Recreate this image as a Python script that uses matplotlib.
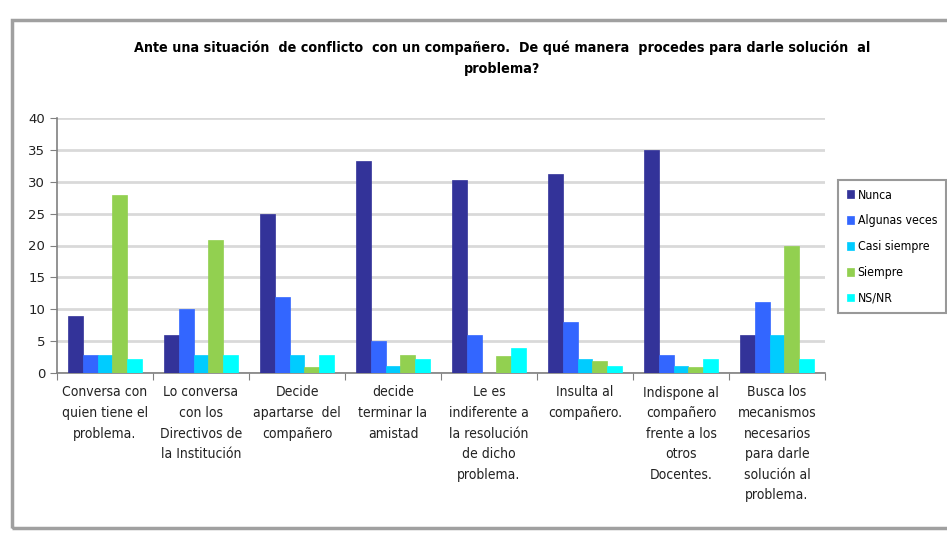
import matplotlib
matplotlib.use("Agg")
import matplotlib.pyplot as plt
from matplotlib.patches import Rectangle
import numpy as np

categories = [
    "Conversa con\nquien tiene el\nproblema.",
    "Lo conversa\ncon los\nDirectivos de\nla Institución",
    "Decide\napartarse  del\ncompañero",
    "decide\nterminar la\namistad",
    "Le es\nindiferente a\nla resolución\nde dicho\nproblema.",
    "Insulta al\ncompañero.",
    "Indispone al\ncompañero\nfrente a los\notros\nDocentes.",
    "Busca los\nmecanismos\nnecesarios\npara darle\nsolución al\nproblema.",
]
series_names = ["Nunca", "Algunas veces", "Casi siempre", "Siempre", "NS/NR"]
nunca = [9, 6, 25, 33.2, 30.2, 31.2, 35, 6]
algunas = [2.9, 10, 12, 5, 5.9, 8, 2.9, 11.1]
casi = [2.9, 2.9, 2.9, 1.05, 0, 2.2, 1.1, 5.9]
siempre = [27.9, 20.8, 0.95, 2.8, 2.7, 1.9, 0.95, 19.9]
nsnr = [2.2, 2.9, 2.9, 2.2, 3.9, 1.1, 2.2, 2.2]
colors = ["#333399", "#3366ff", "#00ccff", "#92d050", "#00ffff"]
title = ("Ante una situación  de conflicto  con un compañero.  De qué manera  procedes para darle solución  al\n"
         "problema?")

fig = plt.figure(figsize=(9.47, 5.33), dpi=100)
fig.patch.set_facecolor("white")

# outer chart frame
fig.add_artist(Rectangle((12 / 947, 1 - 528 / 533), 940 / 947, 508 / 533,
                         transform=fig.transFigure, fill=False,
                         edgecolor="#a0a0a0", linewidth=2.5))

ax = fig.add_axes([57 / 947, 1 - 373 / 533, 768 / 947, 255 / 533])

x = np.arange(len(categories))
w = 0.156
data = [nunca, algunas, casi, siempre, nsnr]
for i, (vals, name, c) in enumerate(zip(data, series_names, colors)):
    ax.bar(x + (i - 2) * w, vals, w, color=c, label=name,
           edgecolor=c, linewidth=0.5, zorder=3)

ax.set_xlim(-0.5, len(categories) - 0.5)
ax.set_ylim(0, 40)
ax.set_yticks(range(0, 41, 5))
ax.yaxis.grid(True, color="#d9d9d9", linewidth=2, zorder=0)
ax.set_axisbelow(True)

ax.set_xticks(np.arange(-0.5, len(categories) + 0.5, 1))
ax.set_xticklabels([])
ax.set_xticks(x, minor=True)
ax.set_xticklabels(categories, minor=True, fontsize=10, color="#222222",
                   linespacing=1.6, va="top", fontstretch="condensed")
ax.tick_params(axis="x", which="minor", length=0, pad=9)
ax.tick_params(axis="x", which="major", length=5, color="#808080", direction="out")
ax.tick_params(axis="y", length=5, color="#808080", labelsize=9.5, labelcolor="#222222")

for s in ["top", "right"]:
    ax.spines[s].set_visible(False)
for s in ["left", "bottom"]:
    ax.spines[s].set_color("#808080")
    ax.spines[s].set_linewidth(1.2)

fig.text(502 / 947, 1 - 58 / 533, title, ha="center", va="center",
         fontsize=10.3, fontweight="bold", fontstretch="condensed",
         linespacing=1.65)

leg = fig.legend(loc="upper left", bbox_to_anchor=(838 / 947, 1 - 180 / 533),
                 frameon=True, fancybox=False, handlelength=0.6,
                 handleheight=0.6, handletextpad=0.3, labelspacing=1.05,
                 borderpad=0.7, borderaxespad=0,
                 prop={"size": 8.8, "stretch": "condensed"})
leg.get_frame().set_edgecolor("#808080")
leg.get_frame().set_linewidth(1.5)

fig.savefig("out.png", dpi=100)
